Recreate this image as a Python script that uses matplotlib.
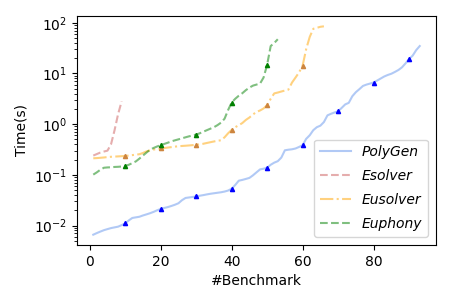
import matplotlib
matplotlib.use("Agg")
import matplotlib.pyplot as plt

# sorted solving times (s) per benchmark
polygen = [0.0066, 0.0071, 0.0076, 0.0081, 0.0085, 0.0089, 0.0092, 0.0095, 0.0102, 0.011,
           0.0126, 0.0141, 0.0145, 0.0149, 0.0158, 0.0166, 0.0175, 0.0186, 0.020, 0.0212,
           0.0222, 0.0231, 0.0243, 0.0257, 0.0275, 0.0316, 0.035, 0.0358, 0.0366, 0.0375,
           0.0387, 0.0398, 0.0411, 0.0423, 0.0433, 0.0443, 0.0453, 0.0468, 0.049, 0.0532,
           0.063, 0.0766, 0.0794, 0.083, 0.087, 0.0977, 0.112, 0.128, 0.132, 0.138,
           0.158, 0.174, 0.186, 0.219, 0.305, 0.313, 0.319, 0.331, 0.355, 0.385,
           0.513, 0.603, 0.76, 0.87, 0.933, 1.10, 1.49, 1.60, 1.70, 1.79,
           2.09, 2.45, 2.63, 3.55, 4.27, 4.90, 5.67, 6.03, 6.31, 6.61,
           7.24, 7.94, 8.71, 9.33, 9.86, 10.7, 11.7, 13.2, 15.8, 19.3,
           22.4, 28.8, 34.7]
esolver = [0.24, 0.257, 0.275, 0.288, 0.30, 0.40, 0.76, 1.58, 2.82]
eusolver = [0.212, 0.214, 0.217, 0.220, 0.224, 0.227, 0.229, 0.231, 0.233, 0.236,
            0.240, 0.245, 0.250, 0.255, 0.270, 0.290, 0.305, 0.315, 0.324, 0.331,
            0.338, 0.345, 0.352, 0.360, 0.366, 0.371, 0.375, 0.380, 0.385, 0.39,
            0.40, 0.41, 0.425, 0.44, 0.455, 0.47, 0.48, 0.55, 0.66, 0.77,
            0.87, 0.95, 1.05, 1.21, 1.35, 1.55, 1.74, 1.86, 2.04, 2.37,
            3.16, 4.04, 4.2, 4.4, 4.6, 4.8, 6.6, 8.3, 10.5, 14.3,
            30.2, 52.5, 75.9, 79.4, 83.2, 85.0]
euphony = [0.101, 0.112, 0.126, 0.138, 0.140, 0.141, 0.143, 0.144, 0.146, 0.149,
           0.158, 0.170, 0.184, 0.209, 0.24, 0.275, 0.313, 0.339, 0.363, 0.385,
           0.407, 0.43, 0.457, 0.479, 0.501, 0.525, 0.55, 0.575, 0.597, 0.622,
           0.66, 0.708, 0.759, 0.813, 0.87, 0.955, 1.07, 1.28, 1.9, 2.67,
           3.16, 3.63, 4.07, 4.68, 5.25, 5.75, 6.03, 6.31, 8.32, 14.9,
           34.7, 39.8, 47.3]

names = ["PolyGen", "Esolver", "Eusolver", "Euphony"]
series = [polygen, esolver, eusolver, euphony]
line_colors = ["cornflowerblue", "indianred", "orange", "green"]
mark_colors = ["blue", "indianred", "peru", "green"]
styles = ["-", "--", "-.", "--"]

fig = plt.figure(figsize=(4.5, 3), dpi=100)
ax = fig.add_axes([0.171, 0.183, 0.798, 0.764])

for name, data, lc, mc, ls in zip(names, series, line_colors, mark_colors, styles):
    xs = list(range(1, len(data) + 1))
    ax.plot(xs, data, ls, color=lc, alpha=0.5, lw=1.5, label=name)
    # a marker on every 10th benchmark
    if len(data) > 10:
        ax.plot(xs[9::10], data[9::10], "^", color=mc, ms=3, lw=0)

ax.set_yscale("log")
ax.set_xlabel("#Benchmark")
ax.set_ylabel("Time(s)")
ax.set_xticks([0, 20, 40, 60, 80])
ax.legend(loc="lower right", prop={"style": "italic", "size": 10},
          handlelength=2.2, labelspacing=0.72, borderaxespad=0.6)

fig.savefig("out.png", dpi=100)
